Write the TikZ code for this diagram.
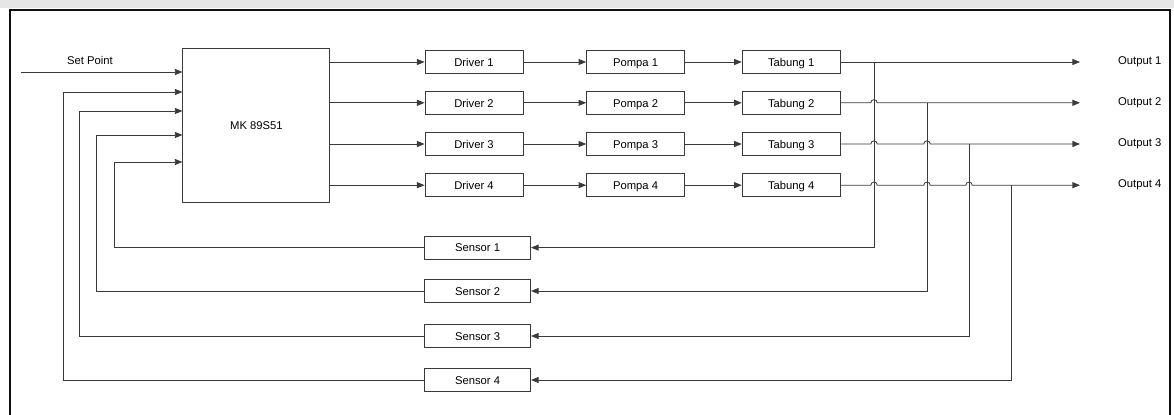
\documentclass[tikz,border=0pt]{standalone}
\usepackage{fontspec}
\setmainfont{Liberation Sans}
\usepackage{xcolor}
\usetikzlibrary{arrows.meta,calc}
\definecolor{MKLine}{HTML}{3A3A3A}
\definecolor{MKFrame}{HTML}{101010}
\definecolor{MKBand}{HTML}{E6E6E6}

\begin{document}
\begin{tikzpicture}[x=1cm,y=1cm,font=\fontsize{8}{9.6}\selectfont,
  blok/.style={draw=MKLine,line width=0.6pt,minimum width=2.45cm,minimum height=0.58cm,inner sep=0pt,
    text height=1.6ex,text depth=0.45ex},
  garis/.style={draw=MKLine,line width=0.6pt},
  panah/.style={garis,-{Triangle[length=1.9mm,width=1.5mm]}}]
\path[use as bounding box] (0,0) rectangle (29.35,10.35);
\fill[MKBand] (0,10.15) rectangle (29.35,10.35);
\draw[MKFrame,line width=1.2pt] (0.25,-0.20) rectangle (29.25,10.10);
% controller
\node[blok,minimum width=3.675cm,minimum height=3.85cm] (mk) at (6.41,7.225) {MK 89S51};
\node (splbl) at (2.25,8.85) {Set Point};
\coordinate (sp) at (0.525,8.55);
\draw[panah] (sp) -- (mk.west |- sp);
% driver, pompa, tabung
\node[blok] (drv1) at (11.85,8.80) {Driver 1};
\node[blok] (drv2) at (11.85,7.78) {Driver 2};
\node[blok] (drv3) at (11.85,6.75) {Driver 3};
\node[blok] (drv4) at (11.85,5.72) {Driver 4};
\node[blok] (pmp1) at (15.89,8.80) {Pompa 1};
\node[blok] (pmp2) at (15.89,7.78) {Pompa 2};
\node[blok] (pmp3) at (15.89,6.75) {Pompa 3};
\node[blok] (pmp4) at (15.89,5.72) {Pompa 4};
\node[blok] (tab1) at (19.78,8.80) {Tabung 1};
\node[blok] (tab2) at (19.78,7.78) {Tabung 2};
\node[blok] (tab3) at (19.78,6.75) {Tabung 3};
\node[blok] (tab4) at (19.78,5.72) {Tabung 4};
\draw[panah] (mk.east |- drv1.west) -- (drv1.west);
\draw[panah] (mk.east |- drv2.west) -- (drv2.west);
\draw[panah] (mk.east |- drv3.west) -- (drv3.west);
\draw[panah] (mk.east |- drv4.west) -- (drv4.west);
\draw[panah] (drv1.east) -- (pmp1.west);
\draw[panah] (drv2.east) -- (pmp2.west);
\draw[panah] (drv3.east) -- (pmp3.west);
\draw[panah] (drv4.east) -- (pmp4.west);
\draw[panah] (pmp1.east) -- (tab1.west);
\draw[panah] (pmp2.east) -- (tab2.west);
\draw[panah] (pmp3.east) -- (tab3.west);
\draw[panah] (pmp4.east) -- (tab4.west);
% outputs
\node[anchor=west] (out1) at (27.83,8.80) {Output 1};
\node[anchor=west] (out2) at (27.83,7.78) {Output 2};
\node[anchor=west] (out3) at (27.83,6.75) {Output 3};
\node[anchor=west] (out4) at (27.83,5.72) {Output 4};
\coordinate (tip1) at (27.00,8.80);
\coordinate (tip2) at (27.00,7.78);
\coordinate (tip3) at (27.00,6.75);
\coordinate (tip4) at (27.00,5.72);
\coordinate (br1) at (21.85,8.80);
\coordinate (br2) at (23.175,7.78);
\coordinate (br3) at (24.225,6.75);
\coordinate (br4) at (25.275,5.72);
\draw[panah] (tab1.east) -- (tip1);
\draw[panah] (tab2.east) -- ($(br1 |- tab2.east)+(-0.08,0)$) arc[start angle=180,end angle=0,radius=0.08] -- (tip2);
\draw[panah] (tab3.east) -- ($(br1 |- tab3.east)+(-0.08,0)$) arc[start angle=180,end angle=0,radius=0.08]
  -- ($(br2 |- tab3.east)+(-0.08,0)$) arc[start angle=180,end angle=0,radius=0.08] -- (tip3);
\draw[panah] (tab4.east) -- ($(br1 |- tab4.east)+(-0.08,0)$) arc[start angle=180,end angle=0,radius=0.08]
  -- ($(br2 |- tab4.east)+(-0.08,0)$) arc[start angle=180,end angle=0,radius=0.08]
  -- ($(br3 |- tab4.east)+(-0.08,0)$) arc[start angle=180,end angle=0,radius=0.08] -- (tip4);
% sensors and feedback
\node[blok,minimum width=2.65cm] (sns1) at (11.94,4.16) {Sensor 1};
\node[blok,minimum width=2.65cm] (sns2) at (11.94,3.075) {Sensor 2};
\node[blok,minimum width=2.65cm] (sns3) at (11.94,1.95) {Sensor 3};
\node[blok,minimum width=2.65cm] (sns4) at (11.94,0.85) {Sensor 4};
\draw[panah] (br1) |- (sns1.east);
\draw[panah] (br2) |- (sns2.east);
\draw[panah] (br3) |- (sns3.east);
\draw[panah] (br4) |- (sns4.east);
\coordinate (fb1) at (2.85,6.30);
\coordinate (fb2) at (2.40,6.975);
\coordinate (fb3) at (1.975,7.575);
\coordinate (fb4) at (1.575,8.05);
\draw[panah] (sns1.west) -| (fb1) -- (mk.west |- fb1);
\draw[panah] (sns2.west) -| (fb2) -- (mk.west |- fb2);
\draw[panah] (sns3.west) -| (fb3) -- (mk.west |- fb3);
\draw[panah] (sns4.west) -| (fb4) -- (mk.west |- fb4);
\end{tikzpicture}
\end{document}
